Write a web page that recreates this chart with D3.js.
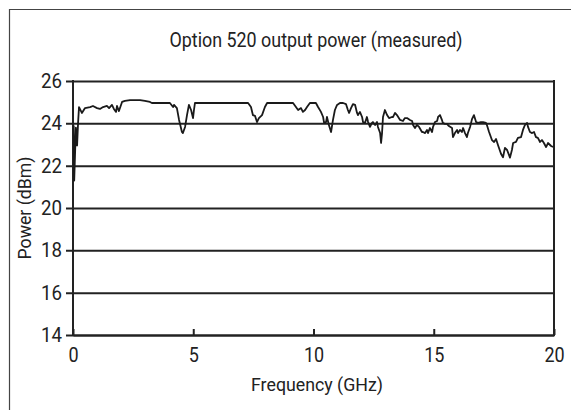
<!DOCTYPE html>
<html><head><meta charset="utf-8">
<script src="https://cdn.jsdelivr.net/npm/d3@7"></script>
<style>
html,body{margin:0;padding:0;background:#fff;}
svg{display:block;}
text{font-family:Roboto,"Liberation Sans",sans-serif;fill:#222;}
</style></head>
<body>
<svg id="chart" width="571" height="410"></svg>
<script>
const title = "Option 520 output power (measured)";
const xLabel = "Frequency (GHz)";
const yLabel = "Power (dBm)";
const xTicks = [0, 5, 10, 15, 20];
const yTicks = [14, 16, 18, 20, 22, 24, 26];

const freq = [0.03,0.05,0.12,0.17,0.21,0.25,0.37,0.50,0.71,0.83,1.00,1.12,1.25,1.41,1.50,1.62,1.70,1.79,1.83,1.91,
2.04,2.16,2.37,2.58,2.79,2.99,3.20,3.28,4.03,4.16,4.20,4.32,4.41,4.53,4.57,4.66,4.74,4.82,4.91,4.99,
5.03,5.07,7.28,7.40,7.48,7.57,7.65,7.73,7.86,7.98,8.07,9.15,9.27,9.36,9.48,9.56,9.65,9.73,9.85,9.98,
10.10,10.19,10.31,10.40,10.44,10.52,10.56,10.64,10.73,10.81,10.89,10.98,11.10,11.23,11.35,11.43,11.48,11.56,11.64,11.73,
11.81,11.85,11.93,12.02,12.06,12.14,12.22,12.27,12.35,12.43,12.47,12.56,12.64,12.68,12.77,12.81,12.85,12.89,12.97,13.06,
13.14,13.26,13.31,13.39,13.47,13.60,13.72,13.80,13.89,14.01,14.10,14.14,14.22,14.30,14.39,14.51,14.55,14.64,14.72,14.76,
14.84,14.93,14.97,15.05,15.14,15.18,15.26,15.34,15.38,15.47,15.55,15.63,15.76,15.80,15.88,15.97,16.01,16.09,16.17,16.22,
16.30,16.38,16.42,16.51,16.59,16.67,16.76,16.84,16.96,17.05,17.17,17.21,17.30,17.42,17.51,17.59,17.67,17.80,17.88,17.96,
18.05,18.17,18.25,18.30,18.42,18.50,18.63,18.71,18.79,18.88,18.92,19.00,19.09,19.17,19.25,19.33,19.42,19.50,19.58,19.67,
19.75,19.88,19.96];

const power = [23.90,21.30,23.80,22.95,24.00,24.77,24.49,24.72,24.77,24.82,24.72,24.68,24.77,24.82,24.72,24.87,24.68,24.54,24.82,24.58,
25.01,25.06,25.10,25.10,25.10,25.06,25.01,24.96,24.96,24.77,24.87,24.72,24.16,23.59,23.54,23.83,24.39,24.87,24.63,24.25,
24.63,24.96,24.96,24.77,24.39,24.35,24.06,24.25,24.39,24.77,24.96,24.96,24.77,24.63,24.72,24.54,24.63,24.77,24.96,24.96,
24.96,24.77,24.54,24.30,24.02,24.06,24.30,23.92,23.59,24.16,24.63,24.87,24.96,24.96,24.91,24.63,24.49,24.72,24.91,24.87,
24.49,24.39,24.54,24.30,24.06,24.02,24.30,24.06,23.83,24.02,24.06,23.92,24.06,23.83,23.54,23.07,23.54,24.30,24.63,24.39,
24.25,24.30,24.30,24.49,24.39,24.16,24.11,24.25,24.25,24.16,24.11,23.92,23.78,23.92,23.83,23.59,23.59,23.54,23.69,23.54,
23.78,23.59,23.83,24.06,24.11,24.30,24.39,24.16,24.02,23.97,23.97,23.87,23.78,23.35,23.54,23.69,23.54,23.69,23.59,23.78,
23.54,23.35,23.54,23.83,24.20,24.39,24.06,24.02,24.06,24.06,24.02,23.92,23.59,23.21,23.12,23.26,22.98,22.55,22.40,22.84,
22.74,22.38,22.74,23.07,23.12,23.31,23.35,23.69,23.92,24.02,23.83,23.59,23.54,23.59,23.35,23.31,23.12,23.21,23.07,22.88,
23.07,22.93,22.88];

const svg = d3.select("#chart");
const ink = "#222";
const fontFam = 'Roboto,"Liberation Sans",sans-serif';

// outer figure frame (top & left edges visible)
svg.append("path").attr("d","M9.5,410 V9.5 H571")
  .attr("fill","none").attr("stroke","#444").attr("stroke-width",1.2);

const x = d3.scaleLinear().domain([0,20]).range([73,554]);
const y = d3.scaleLinear().domain([14,26]).range([335,81]);

// horizontal gridlines with outward left ticks
const yAxis = d3.axisLeft(y).tickValues(yTicks).tickSize(-(554-73)).tickSizeOuter(0).tickPadding(11)
  .tickFormat(d3.format("d"));
const gy = svg.append("g").attr("transform","translate(73,0)").call(yAxis);
gy.select(".domain").remove();
gy.selectAll(".tick line").attr("stroke",ink).attr("stroke-width",2).attr("x1",-7);
gy.selectAll(".tick text").attr("font-size",20).attr("fill","#333").attr("textLength",21)
  .attr("lengthAdjust","spacingAndGlyphs").style("font-family",fontFam);

// x axis with inward ticks
const xAxis = d3.axisBottom(x).tickValues(xTicks).tickSize(-6).tickSizeOuter(0).tickPadding(13)
  .tickFormat(d3.format("d"));
const gx = svg.append("g").attr("transform","translate(0,335)").call(xAxis);
gx.select(".domain").attr("stroke",ink).attr("stroke-width",2);
gx.selectAll(".tick line").attr("stroke",ink).attr("stroke-width",2);
gx.selectAll(".tick text").attr("font-size",20).attr("fill","#333")
  .attr("transform","scale(0.9,1)")
  .style("font-family",fontFam);

// left & right frame
svg.append("line").attr("x1",x(0)).attr("x2",x(0)).attr("y1",y(26)-1).attr("y2",y(14)+1)
  .attr("stroke",ink).attr("stroke-width",2);
svg.append("line").attr("x1",x(20)).attr("x2",x(20)).attr("y1",y(26)-1).attr("y2",y(14)+1)
  .attr("stroke",ink).attr("stroke-width",2);

// data line
const data = freq.map((f,i)=>({f, p: power[i]}));
svg.append("path").datum(data)
  .attr("fill","none").attr("stroke","#1a1a1a").attr("stroke-width",1.8)
  .attr("stroke-linejoin","round")
  .attr("d", d3.line().x(d=>x(d.f)).y(d=>y(d.p)));

// titles
svg.append("text").attr("x",316).attr("y",47).attr("text-anchor","middle")
  .attr("font-size",20).attr("textLength",293).attr("lengthAdjust","spacingAndGlyphs").text(title);
svg.append("text").attr("x",317).attr("y",391).attr("text-anchor","middle")
  .attr("font-size",19).attr("textLength",132).attr("lengthAdjust","spacingAndGlyphs").text(xLabel);
svg.append("text").attr("transform","translate(31,208) rotate(-90)").attr("text-anchor","middle")
  .attr("font-size",19).attr("textLength",103).attr("lengthAdjust","spacingAndGlyphs").text(yLabel);
</script>
</body></html>
